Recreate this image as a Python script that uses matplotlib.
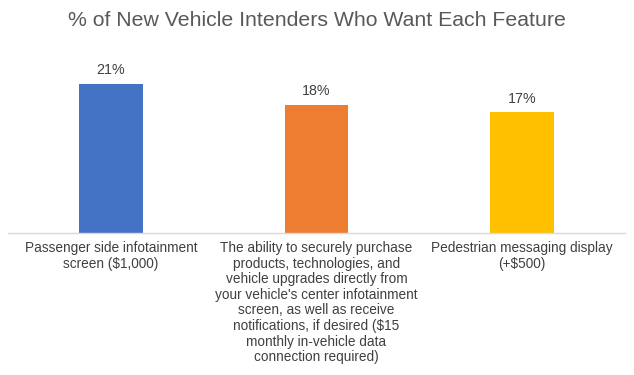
import matplotlib
matplotlib.use("Agg")
import matplotlib.pyplot as plt

plt.rcParams['font.family'] = ['Liberation Sans', 'DejaVu Sans']

categories = [
    "Passenger side infotainment\nscreen ($1,000)",
    "The ability to securely purchase\nproducts, technologies, and\nvehicle upgrades directly from\nyour vehicle's center infotainment\nscreen, as well as receive\nnotifications, if desired ($15\nmonthly in-vehicle data\nconnection required)",
    "Pedestrian messaging display\n(+$500)",
]
values = [21, 18, 17]
labels = ["21%", "18%", "17%"]
colors = ["#4472C4", "#ED7D31", "#FFC000"]

fig = plt.figure(figsize=(6.34, 3.75), dpi=100)
ax = fig.add_axes([8/634, 1 - 233/375, 617/634, (233 - 77)/375])
x = list(range(len(values)))
bars = ax.bar(x, values, width=0.31, color=colors)
ax.set_xlim(-0.5, 2.5)
ax.set_ylim(0, 22)
for xi, v, l in zip(x, values, labels):
    ax.annotate(l, (xi, v), xytext=(0, 5), textcoords='offset points',
                ha='center', va='bottom', fontsize=10.3, color='#404040')
ax.set_yticks([])
ax.set_xticks(x)
ax.set_xticklabels(categories, fontsize=9.8, color='#404040', linespacing=1.14)
ax.tick_params(axis='x', length=0, pad=6)
for s in ['top', 'right', 'left']:
    ax.spines[s].set_visible(False)
ax.spines['bottom'].set_color('#D9D9D9')
ax.spines['bottom'].set_linewidth(1)
fig.text(0.5, 1 - 20/375, "% of New Vehicle Intenders Who Want Each Feature",
         ha='center', va='center', fontsize=15.3, color='#595959')
fig.savefig("out.png", dpi=100)
